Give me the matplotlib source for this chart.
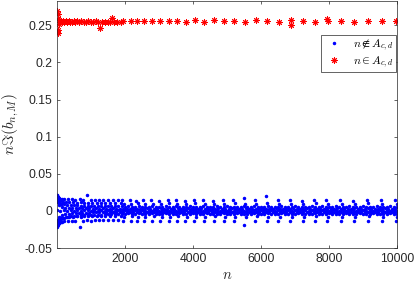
#Import packages
import numpy as np
import matplotlib.pyplot as plt

plt.rcParams['font.family'] = ['Liberation Sans', 'DejaVu Sans']
plt.rcParams['mathtext.fontset'] = 'cm'

#red stars: n in A_{c,d}
red_n = [15, 20, 25, 35, 45, 60, 75, 95, 120, 150, 185, 220, 260, 300, 345, 390, 440, 490, 545, 600,
         660, 720, 785, 850, 920, 990, 1060, 1135, 1210, 1260, 1330, 1410, 1490, 1570, 1605, 1690, 1780, 1870,
         1950, 2180, 2365, 2570, 2810, 3045, 3295, 3530, 3790, 4055, 4330, 4615, 4915, 5220, 5525, 5845,
         6180, 6525, 6870, 6880, 7235, 7600, 7955, 7965, 8360, 8745, 9150, 9555, 9980]
red_v = [0.2690, 0.2650, 0.2395, 0.2430, 0.2590, 0.2520, 0.2565, 0.2545, 0.2555, 0.2540, 0.2560, 0.2545,
         0.2555, 0.2540, 0.2560, 0.2550, 0.2545, 0.2560, 0.2545, 0.2555, 0.2545, 0.2560, 0.2550, 0.2545,
         0.2555, 0.2550, 0.2545, 0.2560, 0.2550, 0.2465, 0.2550, 0.2545, 0.2550, 0.2545, 0.2600, 0.2550,
         0.2545, 0.2550, 0.2555, 0.2555, 0.2555, 0.2555, 0.2555, 0.2555, 0.2555, 0.2560, 0.2540, 0.2565,
         0.2540, 0.2565, 0.2555, 0.2555, 0.2540, 0.2570, 0.2555, 0.2550, 0.2568, 0.2510, 0.2555, 0.2550,
         0.2590, 0.2555, 0.2555, 0.2550, 0.2560, 0.2555, 0.2552]

#blue dots: n not in A_{c,d}, values in units of 1e-3
#core band, rows a,c,e sampled at n = 0,100,...; rows b,d at n = 50,150,...
core_a = [13, 10, 9, 8.5, 8, 7.5, 7.5, 7, 7, 7,
          6.5, 7, 6.5, 6.5, 6.5, 6, 6.5, 6, 6, 6,
          5.5, 6, 5, 5.5, 6, 5, 5.5, 5, 6, 5.5,
          5, 5.5, 6, 5, 5.5, 6, 5.5, 5, 5.5, 6,
          5, 5.5, 5, 6, 5.5, 5, 5.5, 6, 5, 5.5,
          6, 5.5, 5, 5.5, 5, 6, 5.5, 5, 6, 5.5,
          5, 5.5, 6, 5, 5.5, 5, 6, 5.5, 5, 5.5,
          6, 5, 5.5, 5.5, 5, 6, 5, 5.5, 6, 5,
          5.5, 5, 6, 5.5, 5, 5.5, 6, 5, 5.5, 5,
          6, 5.5, 5, 5.5, 6, 5, 5.5, 5, 6, 5.5,
          5]
core_b = [8, 5, 4.5, 4, 4, 3.5, 4, 3.5, 3.5, 3.5,
          3, 3.5, 3, 3.5, 3, 3, 3.5, 3, 3, 3,
          3, 2.5, 3.5, 3, 2.5, 3, 3.5, 3, 2.5, 3,
          3.5, 3, 2.5, 3, 3, 3.5, 2.5, 3, 3.5, 3,
          2.5, 3, 3.5, 3, 2.5, 3, 3, 3.5, 3, 2.5,
          3, 3.5, 3, 2.5, 3, 3.5, 3, 3, 2.5, 3,
          3.5, 3, 2.5, 3, 3.5, 3, 2.5, 3, 3, 3.5,
          3, 2.5, 3, 3.5, 3, 3, 2.5, 3.5, 3, 3,
          2.5, 3, 3.5, 3, 3, 2.5, 3, 3.5, 3, 2.5,
          3, 3.5, 3, 2.5, 3, 3, 3.5, 3, 2.5, 3]
core_c = [1.5, -0.5, 1, 0.5, 1, 0.5, 1, 0.5, 1, 1,
          0.5, 1, 0.5, 1, 0.5, 1, 1, 0.5, 1, 0.5,
          1, 0.5, 1, 1.5, 0.5, 1, 0.5, 1, 0.5, 1,
          0.5, 1, 1, 0.5, 1.5, 0.5, 1, 0.5, 1, 1,
          1, 0.5, 1, 0.5, 1, 1, 0.5, 1.5, 0.5, 1,
          0.5, 1, 0.5, 1, 1, 0.5, 1, 0.5, 1.5, 0.5,
          1, 1, 0.5, 1, 0.5, 1, 1.5, 0.5, 1, 0.5,
          1, 0.5, 1, 1, 0.5, 1, 0.5, 1, 1.5, 0.5,
          0.5, 1, 1, 0.5, 1, 0.5, 1, 1, 0.5, 1,
          1.5, 0.5, 1, 0.5, 1, 1, 0.5, 1, 0.5, 1,
          0.5]
core_d = [-8, -5, -4.5, -4, -3.5, -3.5, -3, -3, -2.5, -2.5,
          -2, -2, -2, -1.5, -2, -1.5, -1.5, -2, -1.5, -1.5,
          -1.5, -1, -2, -1.5, -1, -1.5, -2, -1.5, -1, -1.5,
          -2, -1.5, -1, -1.5, -1.5, -2, -1, -1.5, -2, -1.5,
          -1, -1.5, -2, -1.5, -1, -1.5, -1.5, -2, -1.5, -1,
          -1.5, -2, -1.5, -1, -1.5, -2, -1.5, -1.5, -1, -1.5,
          -2, -1.5, -1, -1.5, -2, -1.5, -1, -1.5, -1.5, -2,
          -1.5, -1, -1.5, -2, -1.5, -1.5, -1, -2, -1.5, -1.5,
          -1, -1.5, -2, -1.5, -1.5, -1, -1.5, -2, -1.5, -1,
          -1.5, -2, -1.5, -1, -1.5, -1.5, -2, -1.5, -1, -1.5]
core_e = [-13, -10, -9, -8, -7.5, -7, -6.5, -6, -6, -5.5,
          -5.5, -5, -5, -5, -4.5, -4.5, -4.5, -4, -4.5, -4,
          -4, -3.5, -4.5, -4, -3.5, -4, -4.5, -4, -3.5, -4,
          -4.5, -4, -3.5, -4, -4, -4.5, -3.5, -4, -4.5, -4,
          -3.5, -4, -4.5, -4, -3.5, -4, -4, -4.5, -4, -3.5,
          -4, -4.5, -4, -3.5, -4, -4.5, -4, -4, -3.5, -4,
          -4.5, -4, -3.5, -4, -4.5, -4, -3.5, -4, -4, -4.5,
          -4, -3.5, -4, -4.5, -4, -4, -3.5, -4.5, -4, -4,
          -3.5, -4, -4.5, -4, -4, -3.5, -4, -4.5, -4, -3.5,
          -4, -4.5, -4, -3.5, -4, -4, -4.5, -4, -3.5, -4,
          -4]

#wide cone at the very start
start_n = [5, 10, 15, 20, 30, 40, 50, 60, 75, 90, 110, 130]
start_hi = [21, 22, 20, 19, 18.5, 17.5, 17, 16.5, 16, 15.5, 15, 14.5]
start_hi2 = [16, 15, 14, 13, 12.5, 12, 11, 10.5, 10, 9.5, 9, 9]
start_lo2 = [-16, -15, -14, -13, -12.5, -12, -11, -10.5, -10, -9.5, -9, -9]
start_lo = [-22, -20, -21, -19, -18, -17.5, -16.5, -16, -15.5, -15, -14.5, -14]

#outer rows for n < 2000
early_n = [150, 220, 320, 440, 540, 670, 760, 870, 990, 1110, 1240, 1360, 1500, 1650, 1800]
early_n2 = [180, 260, 360, 480, 590, 700, 800, 920, 1040, 1170, 1290, 1420, 1570, 1720, 1870]
early_hi1 = [16.5, 16, 15.5, 15.5, 15, 15.5, 15, 21.5, 15, 14.5, 15, 14.5, 15, 14.5, 14.5]
early_hi2 = [12.5, 12, 11.5, 11.5, 11, 11.5, 11, 11, 10.5, 11, 10.5, 10.5, 11, 10.5, 10.5]
early_lo1 = [-9, -8.5, -8, -8, -7.5, -8, -7.5, -7.5, -7.5, -7, -7.5, -7, -7.5, -7, -7]
early_lo2 = [-15, -14, -13.5, -13, -13, -22, -13, -12.5, -13, -12.5, -12.5, -12.5, -12.5, -12, -12.5]

#spikes near the elements of A_{c,d}
spike_n_top = [1920, 2150, 2335, 2540, 2780, 3015, 3265, 3500, 3760, 4025, 4300, 4585, 4885, 5190,
               5495, 5815, 6150, 6495, 6840, 7205, 7570, 7925, 8330, 8715, 9120, 9525, 9950]
spike_top = [14, 14, 13.5, 14, 14, 13.5, 14, 14.5, 13.5, 14, 14, 13.5, 14, 14,
             18, 14, 19.5, 14, 14, 13.5, 14, 14.5, 14, 13.5, 14, 14, 14]
spike_n_mid = [1960, 2190, 2375, 2580, 2820, 3055, 3305, 3540, 3800, 4065, 4340, 4625, 4925, 5230,
               5535, 5855, 6190, 6535, 6880, 7245, 7610, 7965, 8370, 8755, 9160, 9565, 9990]
spike_mid = [9.5, 9.5, 10, 9.5, 9, 9.5, 10, 9.5, 9.5, 10, 9.5, 9, 9.5, 10,
             9.5, 9.5, 10, 9.5, 9, 9.5, 10, 9.5, 9.5, 9, 10, 9.5, 9.5]
spike_n_low = [1980, 2210, 2395, 2600, 2840, 3075, 3325, 3560, 3820, 4085, 4360, 4645, 4945, 5250,
               5555, 5875, 6210, 6555, 6900, 7265, 7630, 7985, 8390, 8775, 9180, 9585, 10000]
spike_low = [-8, -7.5, -8, -8, -7.5, -8, -8, -7.5, -8, -8.5, -8, -7.5, -8, -8,
             -8, -7.5, -8, -8, -8.5, -8, -7.5, -8, -8, -8, -7.5, -8, -8]
spike_n_bot = [1940, 2170, 2355, 2560, 2800, 3035, 3285, 3520, 3780, 4045, 4320, 4605, 4905, 5210,
               5515, 5835, 6170, 6515, 6860, 7225, 7590, 7945, 8350, 8735, 9140, 9545, 9970]
spike_bot = [-13, -13.5, -13, -14, -13.5, -13, -14, -13.5, -13, -14, -13.5, -13.5, -14, -13.5,
             -19, -13.5, -14, -13.5, -14, -13.5, -14, -13.5, -14, -13.5, -14, -13.5, -14]

#collect blue points
blue_n = np.concatenate([100 * np.arange(len(core_a)), 50 + 100 * np.arange(len(core_b)),
                         100 * np.arange(len(core_c)), 50 + 100 * np.arange(len(core_d)),
                         100 * np.arange(len(core_e)),
                         start_n, start_n, start_n, start_n,
                         early_n, early_n2, early_n2, early_n,
                         spike_n_top, spike_n_mid, spike_n_low, spike_n_bot])
blue_v = 1e-3 * np.concatenate([core_a, core_b, core_c, core_d, core_e,
                                start_hi, start_hi2, start_lo2, start_lo,
                                early_hi1, early_hi2, early_lo1, early_lo2,
                                spike_top, spike_mid, spike_low, spike_bot])

fig = plt.figure(figsize=(4.15, 2.81), dpi=100)
ax = fig.add_axes([0.1373, 0.1174, 0.8193, 0.879])

ax.plot(blue_n, blue_v, '.', color='blue', markersize=3, label=r'$n \notin A_{c,d}$')
ax.plot(red_n, red_v, linestyle='none', marker=(8, 2, 0), color='red', markersize=4.6,
        markeredgewidth=0.7, label=r'$n \in A_{c,d}$')

ax.set_xlim(1, 10000)
ax.set_ylim(-0.05, 0.2827)
ax.set_xticks([2000, 4000, 6000, 8000, 10000])
ax.set_yticks([-0.05, 0, 0.05, 0.1, 0.15, 0.2, 0.25])
ax.set_yticklabels(['-0.05', '0', '0.05', '0.1', '0.15', '0.2', '0.25'])
ax.tick_params(direction='in', length=2.5, width=0.5, colors='#262626', labelsize=8.7,
               top=True, right=True)
for s in ax.spines.values():
    s.set_linewidth(0.5)
    s.set_color('#262626')

ax.set_xlabel(r'$n$', fontsize=10.5, color='#262626', labelpad=2)
ax.set_ylabel(r'$n\Im(b_{n,M})$', fontsize=11, color='#262626', labelpad=2)

leg = ax.legend(loc='upper right', bbox_to_anchor=(1.0, 0.866), fontsize=8.3, fancybox=False,
                framealpha=1, edgecolor='#262626', borderpad=0.2, handletextpad=0.6,
                labelspacing=0.15, borderaxespad=0.1, markerscale=1.0)
leg.get_frame().set_linewidth(0.5)

plt.savefig('out.png', dpi=100)
